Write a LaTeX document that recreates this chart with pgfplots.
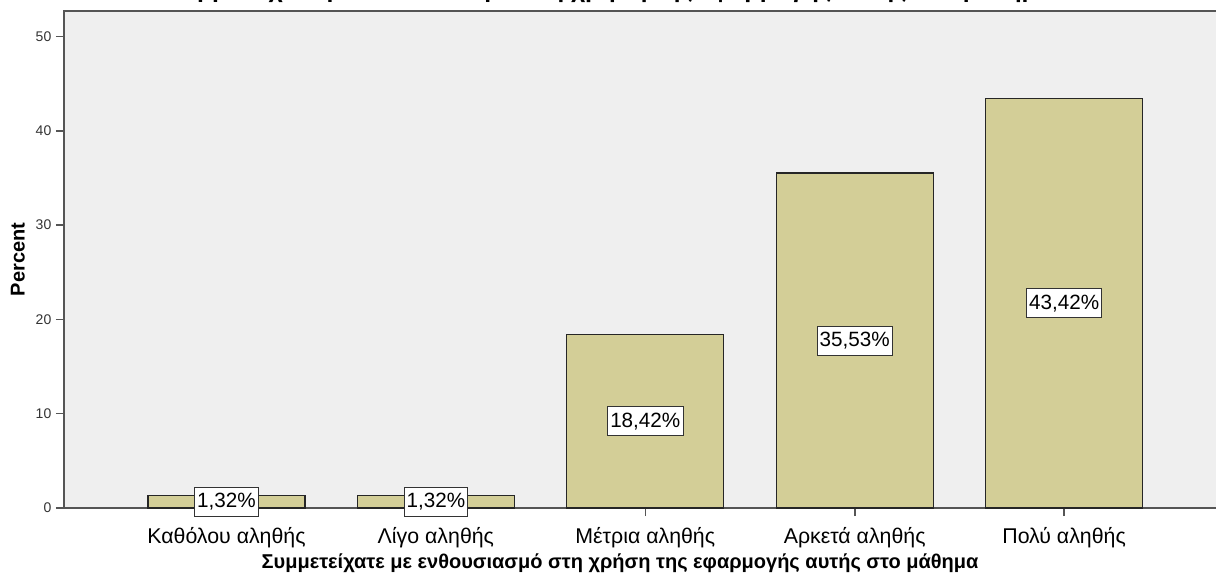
\documentclass[border=0pt]{standalone}
\usepackage{fontspec}
\setmainfont{Liberation Sans}
\usepackage{pgfplots}
\usepackage{pgfplotstable}
\pgfplotsset{compat=1.18}

\definecolor{barfill}{RGB}{211,206,151}
\definecolor{panel}{RGB}{239,239,239}
\definecolor{axisgray}{RGB}{85,85,85}

% percentage of answers per category
\pgfplotstableread{
x pct
0 1.32
1 1.32
2 18.42
3 35.53
4 43.42
}\pcttable

\begin{document}
\begin{tikzpicture}
\begin{axis}[
  at={(48pt,52.5pt)}, anchor=south west,
  scale only axis, width=865.5pt, height=372.75pt,
  xmin=-0.776, xmax=4.735, ymin=0, ymax=52.7,
  axis background/.style={fill=panel},
  axis line style={axisgray, line width=1.5pt},
  tick style={axisgray, line width=1.2pt},
  tick align=outside, major tick length=6pt,
  tick pos=left,
  xtick={0,...,4},
  xticklabels={Καθόλου αληθής, Λίγο αληθής, Μέτρια αληθής, Αρκετά αληθής, Πολύ αληθής},
  xticklabel style={font=\fontsize{16}{19}\selectfont, text=black, yshift=-5pt},
  ytick={0,10,...,50},
  yticklabel style={font=\fontsize{10.5}{12}\selectfont, text=black!80},
  /pgf/number format/assume math mode=true,
  ylabel={Percent},
  ylabel style={at={(axis description cs:-0.0399,0.5)}, anchor=center, font=\bfseries\fontsize{15}{18}\selectfont},
  xlabel={Συμμετείχατε με ενθουσιασμό στη χρήση της εφαρμογής αυτής στο μάθημα},
  xlabel style={at={(axis description cs:0.4818,-0.1107)}, anchor=center, font=\bfseries\fontsize{15}{18}\selectfont},
  title={Συμμετείχατε με ενθουσιασμό στη χρήση της εφαρμογής αυτής στο μάθημα},
  title style={at={(axis description cs:0.473,1.01006)}, anchor=base, yshift=0pt, font=\bfseries\fontsize{18.5}{22}\selectfont},
  ybar, bar width=0.75, bar shift=0pt,
  clip=false,
]
\addplot[fill=barfill, draw=black!85, line width=0.9pt,
  visualization depends on={y \as \rawy},
  nodes near coords={\pgfmathprintnumber[fixed,fixed zerofill,precision=2,use comma,assume math mode=true]{\pgfplotspointmeta}\%},
  every node near coord/.append style={anchor=center, yshift={-3.5366*\rawy}, fill=white, draw=black!80, line width=0.6pt, inner xsep=2pt, inner ysep=4.5pt, font=\fontsize{15.5}{18}\selectfont, text=black}
] table[x=x, y=pct] {\pcttable};
\end{axis}
\pgfresetboundingbox
\path (0,0) rectangle (912pt,433.5pt);
\end{tikzpicture}
\end{document}
